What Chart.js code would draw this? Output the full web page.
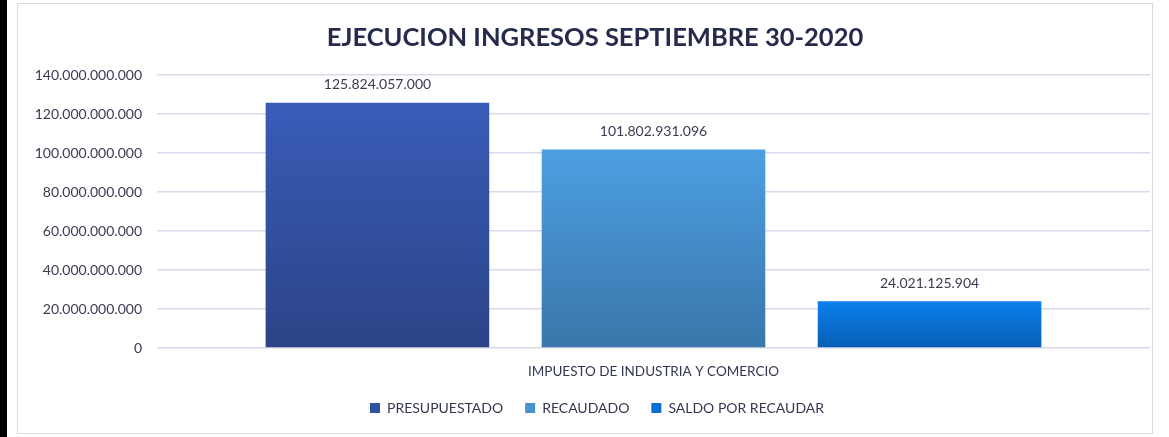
<!DOCTYPE html>
<html>
<head>
<meta charset="utf-8">
<script src="https://cdn.jsdelivr.net/npm/chart.js@4/dist/chart.umd.min.js"></script>
<style>
    body { margin: 0; background: #fff; width: 1169px; height: 437px; overflow: hidden; position: relative; }
    #strip { position: absolute; left: 0; top: 0; width: 7px; height: 437px; background: #000; }
    #box { position: absolute; left: 17px; top: 3px; width: 1134px; height: 429px; border: 1px solid #d9d9e6; }
</style>
</head>
<body>
<div id="strip"></div>
<div id="box"><canvas id="ingresosChart" width="1134" height="429"></canvas></div>
<script>
const chartTitle = 'EJECUCION INGRESOS SEPTIEMBRE 30-2020';
const categories = ['IMPUESTO DE INDUSTRIA Y COMERCIO'];
const seriesNames = ['PRESUPUESTADO', 'RECAUDADO', 'SALDO POR RECAUDAR'];
const presupuestado = [125824057000];
const recaudado = [101802931096];
const saldoPorRecaudar = [24021125904];
const yTicks = [0, 20000000000, 40000000000, 60000000000, 80000000000, 100000000000, 120000000000, 140000000000];

const topColors = ['#3a5cb8', '#4c9fe2', '#0b80ec'];
const bottomColors = ['#2b4487', '#3a76aa', '#075eb3'];
const legendColors = ['#30519f', '#4a92d2', '#0a70d6'];

const fmt = v => v.toLocaleString('de-DE');

function barGradient(i) {
    return function(context) {
        const chart = context.chart;
        if (!chart.chartArea || context.raw === undefined) return legendColors[i];
        const y = chart.scales.y;
        const top = y.getPixelForValue(context.raw);
        const bottom = y.getPixelForValue(0);
        const g = chart.ctx.createLinearGradient(0, top, 0, bottom);
        g.addColorStop(0, topColors[i]);
        g.addColorStop(1, bottomColors[i]);
        return g;
    };
}

// value above each bar + title (drawn here so it can sit a bit right of centre like the original)
const labelsAndTitle = {
    id: 'labelsAndTitle',
    afterLayout(chart) {
        // legend sits a little right of centre in the original
        chart.legend.left += 13;
        chart.legend.right += 13;
    },
    afterDatasetsDraw(chart) {
        const ctx = chart.ctx;
        ctx.save();
        ctx.font = '14px Lato';
        ctx.fillStyle = '#3a3d52';
        ctx.textAlign = 'center';
        ctx.textBaseline = 'bottom';
        chart.data.datasets.forEach((ds, di) => {
            chart.getDatasetMeta(di).data.forEach((bar, i) => {
                ctx.fillText(fmt(ds.data[i]), bar.x, bar.y - 11);
            });
        });
        ctx.font = 'bold 25.5px Lato';
        ctx.fillStyle = '#262a4c';
        ctx.textBaseline = 'middle';
        ctx.fillText(chartTitle, chart.width / 2 + 10, 34);
        ctx.restore();
    }
};

const ctx = document.getElementById('ingresosChart').getContext('2d');
new Chart(ctx, {
    type: 'bar',
    data: {
        labels: categories,
        datasets: [presupuestado, recaudado, saldoPorRecaudar].map((data, i) => ({
            label: seriesNames[i],
            data: data,
            backgroundColor: barGradient(i),
            categoryPercentage: 0.834,
            barPercentage: 0.81
        }))
    },
    options: {
        responsive: false,
        animation: false,
        layout: { padding: { left: 0, right: 2, top: 71, bottom: 8 } },
        plugins: {
            title: { display: false },
            legend: {
                position: 'bottom',
                labels: {
                    color: '#333850',
                    font: { family: 'Lato', size: 14 },
                    boxWidth: 10,
                    boxHeight: 10,
                    padding: 22,
                    generateLabels: function(chart) {
                        return chart.data.datasets.map((ds, i) => ({
                            text: ds.label,
                            fillStyle: legendColors[i],
                            strokeStyle: legendColors[i],
                            lineWidth: 0,
                            datasetIndex: i,
                            fontColor: '#333850'
                        }));
                    }
                }
            },
            tooltip: { enabled: false }
        },
        scales: {
            y: {
                min: 0,
                max: 140000000000,
                afterBuildTicks: function(scale) {
                    scale.ticks = yTicks.map(v => ({ value: v }));
                },
                afterFit: function(scale) {
                    scale.width = 139;
                },
                border: { display: false },
                grid: { color: '#d9d9ea', lineWidth: 1.5, drawTicks: false },
                ticks: {
                    color: '#3a3d52',
                    font: { family: 'Lato', size: 14 },
                    padding: 15,
                    callback: function(value) { return fmt(value); }
                }
            },
            x: {
                afterFit: function(scale) {
                    scale.height = 31;
                },
                border: { display: false },
                grid: { display: false, drawTicks: false },
                ticks: {
                    color: '#333850',
                    font: { family: 'Lato', size: 13.5 },
                    padding: 16
                }
            }
        }
    },
    plugins: [labelsAndTitle]
});
</script>
</body>
</html>
